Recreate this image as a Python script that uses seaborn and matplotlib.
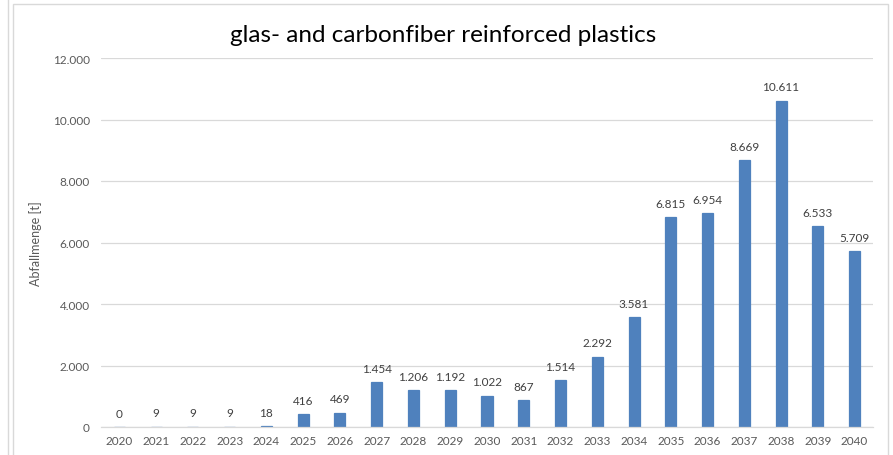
import matplotlib
matplotlib.use("Agg")
import matplotlib.pyplot as plt
from matplotlib.patches import Rectangle
from matplotlib.lines import Line2D
import seaborn as sns
import pandas as pd

years = [str(y) for y in range(2020, 2041)]
waste_t = [0, 9, 9, 9, 18, 416, 469, 1454, 1206, 1192, 1022, 867, 1514, 2292,
           3581, 6815, 6954, 8669, 10611, 6533, 5709]
y_ticks = [0, 2000, 4000, 6000, 8000, 10000, 12000]

title = "glas- and carbonfiber reinforced plastics"
y_label = "Abfallmenge [t]"


def de_fmt(v):
    return f"{v:,.0f}".replace(",", ".")


sns.set_theme(style="white")
plt.rcParams["font.family"] = ["Lato", "DejaVu Sans"]

W, H = 893, 456
fig = plt.figure(figsize=(W / 100, H / 100), dpi=100)

# chart frame
fig.add_artist(Line2D([8 / W, 8 / W], [0, 1], color="#d9d9d9", lw=1.0))
fig.add_artist(Rectangle((13 / W, -0.05), (888 - 13) / W, 1.05 - 5 / H,
                         fill=False, edgecolor="#d9d9d9", lw=1.0,
                         transform=fig.transFigure))

left, right, bottom, top = 101, 873, 428, 59
ax = fig.add_axes([left / W, (H - bottom) / H, (right - left) / W, (bottom - top) / H])

df = pd.DataFrame({"year": years, "waste": waste_t})
sns.barplot(data=df, x="year", y="waste", color="#4F81BD", saturation=1,
            width=0.30, edgecolor="#4F81BD", linewidth=0.9, ax=ax)

ax.set_ylim(0, 12000)
ax.set_xlim(-0.5, len(years) - 0.5)
ax.set_yticks(y_ticks)
ax.set_yticklabels([de_fmt(v) for v in y_ticks])
ax.grid(axis="y", color="#d9d9d9", lw=0.9)
ax.set_axisbelow(True)
for s in ["top", "right", "left"]:
    ax.spines[s].set_visible(False)
ax.spines["bottom"].set_color("#d9d9d9")
ax.spines["bottom"].set_linewidth(0.9)

ax.tick_params(axis="both", length=0, labelsize=8.5, colors="#595959")
ax.tick_params(axis="y", pad=8)
ax.tick_params(axis="x", pad=6)
ax.set_xlabel("")
ax.set_ylabel(y_label, fontsize=9, color="#595959")
ax.yaxis.set_label_coords((42 - left) / (right - left), 0.5)

ax.bar_label(ax.containers[0], labels=[de_fmt(v) for v in waste_t],
             padding=6, fontsize=8.5, color="#404040")

fig.text(443 / W, 1 - 35 / H, title, ha="center", va="center",
         fontsize=17.5, color="black")

fig.savefig("out.png", dpi=100, facecolor="white")
